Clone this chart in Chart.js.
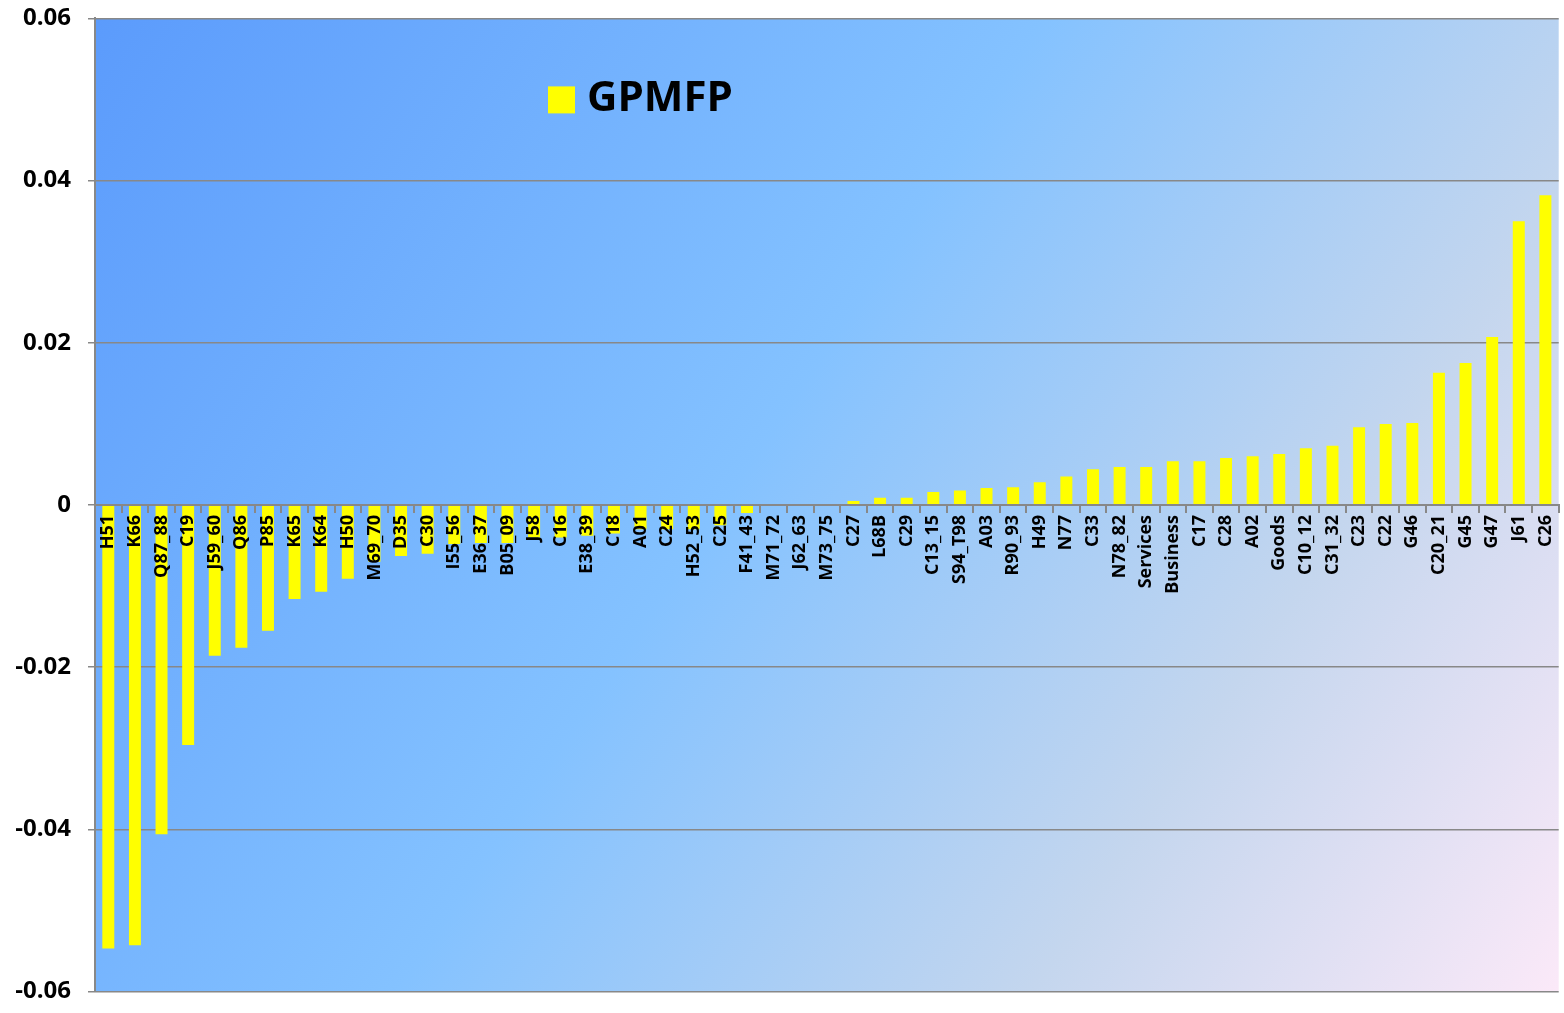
<!DOCTYPE html>
<html>
<head>
<meta charset="utf-8">
<script src="https://cdn.jsdelivr.net/npm/chart.js@4/dist/chart.umd.min.js"></script>
<style>
  html, body { margin: 0; padding: 0; background: #fff; }
  #wrap { width: 1564px; height: 1013px; overflow: hidden; }
  #gpmfpChart { display: block; margin-top: -13px; }
</style>
</head>
<body>
<div id="wrap"><canvas id="gpmfpChart" width="1570" height="1036"></canvas></div>
<script>
// Categories, sorted by value as in the source chart
var categories = ['H51', 'K66', 'Q87_88', 'C19', 'J59_60', 'Q86', 'P85', 'K65', 'K64', 'H50',
    'M69_70', 'D35', 'C30', 'I55_56', 'E36_37', 'B05_09', 'J58', 'C16', 'E38_39', 'C18',
    'A01', 'C24', 'H52_53', 'C25', 'F41_43', 'M71_72', 'J62_63', 'M73_75', 'C27', 'L68B',
    'C29', 'C13_15', 'S94_T98', 'A03', 'R90_93', 'H49', 'N77', 'C33', 'N78_82', 'Services',
    'Business', 'C17', 'C28', 'A02', 'Goods', 'C10_12', 'C31_32', 'C23', 'C22', 'G46',
    'C20_21', 'G45', 'G47', 'J61', 'C26'];

var gpmfpValues = [-0.0547, -0.0543, -0.0406, -0.0296, -0.0186, -0.0176, -0.0155, -0.0116, -0.0107, -0.0091,
    -0.0070, -0.0063, -0.0060, -0.0048, -0.0047, -0.0047, -0.0040, -0.0040, -0.0038, -0.0035,
    -0.0030, -0.0030, -0.0030, -0.0025, -0.0010, 0.0000, 0.0000, 0.0000, 0.0005, 0.0009,
    0.0009, 0.0016, 0.0018, 0.0021, 0.0022, 0.0028, 0.0035, 0.0044, 0.0047, 0.0047,
    0.0054, 0.0054, 0.0058, 0.0060, 0.0063, 0.0070, 0.0073, 0.0096, 0.0100, 0.0101,
    0.0163, 0.0175, 0.0207, 0.0350, 0.0382];

var yTicks = [-0.06, -0.04, -0.02, 0, 0.02, 0.04, 0.06];
var seriesName = 'GPMFP';

// Gradient fill behind the plot area
var plotBackground = {
    id: 'plotBackground',
    beforeDraw: function(chart) {
        var a = chart.chartArea;
        var ctx = chart.ctx;
        var g = ctx.createLinearGradient(a.left, a.top, a.right, a.bottom);
        g.addColorStop(0, '#5b9bfc');
        g.addColorStop(0.45, '#84c2ff');
        g.addColorStop(0.75, '#c4d6ee');
        g.addColorStop(1, '#fbe9f8');
        ctx.save();
        ctx.fillStyle = g;
        ctx.fillRect(a.left, a.top, a.right - a.left, a.bottom - a.top);
        ctx.restore();
    }
};

// Legend drawn inside the plot, near the top
var innerLegend = {
    id: 'innerLegend',
    afterDraw: function(chart) {
        var ctx = chart.ctx;
        var ds = chart.data.datasets[0];
        var top = chart.chartArea.top;
        ctx.save();
        ctx.fillStyle = ds.backgroundColor;
        ctx.fillRect(548, top + 68, 27, 27);
        ctx.fillStyle = '#000';
        ctx.font = 'bold 42px "Open Sans"';
        ctx.textBaseline = 'middle';
        ctx.fillText(ds.label, 587, top + 81);
        ctx.restore();
    }
};

var ctx = document.getElementById('gpmfpChart').getContext('2d');
new Chart(ctx, {
    type: 'bar',
    data: {
        labels: categories,
        datasets: [{
            label: seriesName,
            data: gpmfpValues,
            backgroundColor: '#ffff00',
            categoryPercentage: 1.0,
            barPercentage: 0.45
        }]
    },
    options: {
        responsive: false,
        animation: false,
        layout: { padding: { top: 0, right: 1, bottom: 0, left: 0 } },
        plugins: {
            legend: { display: false },
            tooltip: { enabled: false }
        },
        scales: {
            x: {
                position: { y: 0 },
                offset: true,
                grid: {
                    offset: true,
                    drawOnChartArea: false,
                    color: '#888888',
                    tickLength: 7,
                    lineWidth: 2
                },
                border: { color: '#888888', width: 2, z: 1 },
                ticks: {
                    z: 1,
                    autoSkip: false,
                    minRotation: 90,
                    maxRotation: 90,
                    padding: 3,
                    color: '#000',
                    font: { family: 'Open Sans', weight: 'bold', size: 18 }
                }
            },
            y: {
                min: -0.06,
                max: 0.06,
                afterBuildTicks: function(scale) {
                    scale.ticks = yTicks.map(function(v) { return { value: v }; });
                },
                afterFit: function(scale) {
                    scale.width = 95;
                },
                grid: {
                    color: '#888888',
                    lineWidth: 1.5,
                    tickLength: 7
                },
                border: { color: '#888888', width: 2 },
                ticks: {
                    padding: 17,
                    color: '#000',
                    font: { family: 'Open Sans', weight: 'bold', size: 24 },
                    callback: function(value) {
                        var v = Math.round(value * 100) / 100;
                        return v === 0 ? '0' : v.toFixed(2);
                    }
                }
            }
        }
    },
    plugins: [plotBackground, innerLegend]
});
</script>
</body>
</html>
